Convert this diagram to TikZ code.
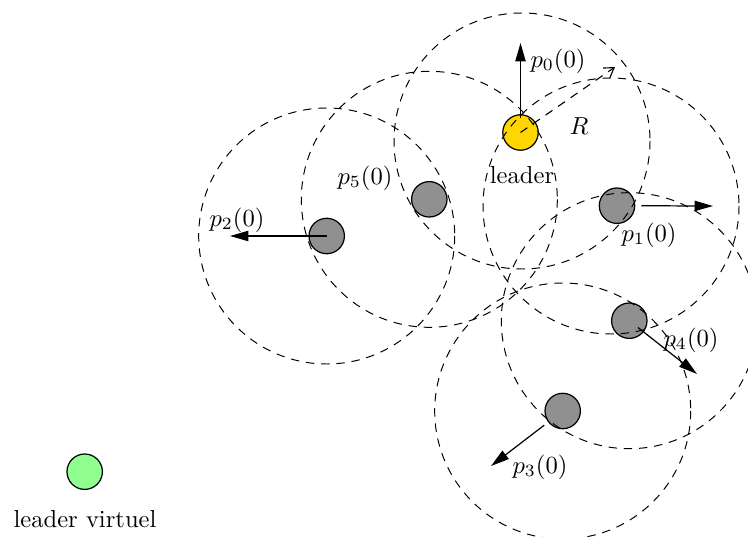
\documentclass[tikz,border=0pt]{standalone}
\usetikzlibrary{arrows.meta}
\definecolor{leadyellow}{RGB}{255,214,0}
\definecolor{nodegray}{RGB}{144,144,144}
\definecolor{virtgreen}{RGB}{144,255,144}
\begin{document}
\begin{tikzpicture}[x=0.4065pt,y=-0.4065pt,
  agent/.style={circle,draw,line width=0.5pt,minimum size=14.4pt,inner sep=0pt,fill=nodegray},
  commrange/.style={draw,dash pattern=on 3.4pt off 2.8pt,line width=0.4pt},
  vec/.style={-{Triangle[length=7.5pt,width=4.2pt]},line width=0.5pt},
  lbl/.style={inner sep=0pt}]
\useasboundingbox (0,0) rectangle (748,537);
% agents
\node[agent,fill=leadyellow] (leader) at (520.5,132.5) {};
\node[agent] (p1) at (617,205.7) {};
\node[agent] (p5) at (429.3,199.3) {};
\node[agent] (p2) at (326.7,236) {};
\node[agent] (p4) at (629.3,320.7) {};
\node[agent] (p3) at (562.7,411) {};
\node[agent,fill=virtgreen] (virt) at (84.7,471.7) {};
% communication ranges
\coordinate (cL) at (522,141);
\coordinate (c1) at (611,206);
\draw[commrange] (cL) circle[radius=128];
\draw[commrange] (c1) circle[radius=128];
\draw[commrange] (p5.center) circle[radius=128];
\draw[commrange] (p2.center) circle[radius=128];
\draw[commrange] (p4.center) circle[radius=128];
\draw[commrange] (p3.center) circle[radius=128];
% tips
\coordinate (p0tip) at (520.5,43);
\coordinate (Rtip) at (615,67);
\coordinate (p1tip) at (713,206);
\coordinate (p2tip) at (230,236);
\coordinate (p4tip) at (697,374);
\coordinate (p3tip) at (491,466);
% vectors
\draw[vec,shorten <=-1.5pt] (leader) -- (p0tip);
\draw[dash pattern=on 3.4pt off 2.8pt,line width=0.45pt,-{Straight Barb[length=3.8pt,width=4.8pt]}] (leader.center) -- (Rtip);
\draw[vec,shorten <=2.5pt] (p1) -- (p1tip);
\draw[vec] (p2.center) -- (p2tip);
\draw[vec,shorten <=-3pt] (p4) -- (p4tip);
\draw[vec,shorten <=2pt] (p3) -- (p3tip);
% labels
\node[lbl] (lp0) at (558,61) {$p_0(0)$};
\node[lbl] (lR) at (579,126) {$R$};
\node[lbl] (lp1) at (649,235) {$p_1(0)$};
\node[lbl] (lp5) at (365,178) {$p_5(0)$};
\node[lbl] (lp2) at (237,220) {$p_2(0)$};
\node[lbl] (lp4) at (691,340) {$p_4(0)$};
\node[lbl] (lp3) at (540,467) {$p_3(0)$};
\node[lbl] (lleader) at (522,175) {leader};
\node[lbl] (lvirt) at (85,519) {leader virtuel};
\end{tikzpicture}
\end{document}
